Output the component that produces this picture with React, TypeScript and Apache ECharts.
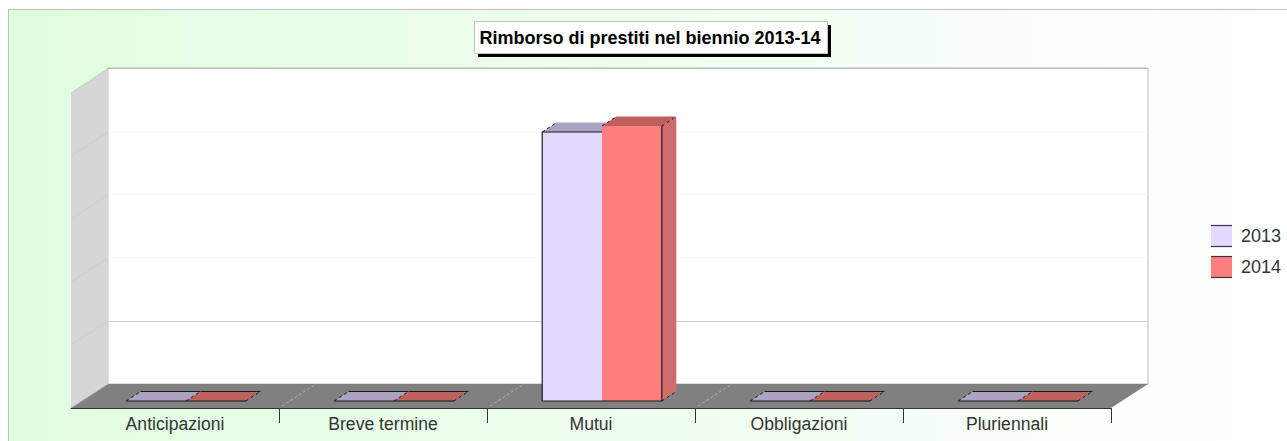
import React, { useEffect, useRef } from "react";
import * as echarts from "echarts";

const TITLE = "Rimborso di prestiti nel biennio 2013-14";
const categories = ["Anticipazioni", "Breve termine", "Mutui", "Obbligazioni", "Pluriennali"];
const seriesNames = ["2013", "2014"];
const values2013 = [0, 0, 427, 0, 0];
const values2014 = [0, 0, 436.5, 0, 0];
const wallTicks = [100, 200, 300, 400, 500];
const boundaries = [1, 2, 3, 4];

const FACE = ["#e3d8ff", "#ff7f7f"];
const TOP = ["#aba2c2", "#bf6060"];
const SIDE = ["#aba2c2", "#cf6c6c"];
const DARK = "#1a1a1a";
const DX = 14.5;
const DY = 9.5;
const WALL_DX = 37;
const WALL_DY = 24;

function box(seriesIdx: number) {
  return (_params: any, api: any) => {
    const i = api.value(0);
    const v = api.value(1);
    const p = api.coord([i, v]);
    const band = api.size([1, 0])[0];
    const w = band * 0.2875;
    const x0 = p[0] + 11 + (seriesIdx - 1) * w;
    const x1 = x0 + w;
    const base = api.coord([i, 0])[1] - 7;
    const y = p[1] - 7;
    const tall = v > 0;
    const fill = (points: number[][], color: string) => ({
      type: "polygon",
      shape: { points },
      style: { fill: color, stroke: null },
    });
    const line = (a: number[], b: number[], dashed = false) => ({
      type: "line",
      shape: { x1: a[0], y1: a[1], x2: b[0], y2: b[1] },
      style: { stroke: DARK, lineWidth: dashed ? 1 : 1.2, lineDash: dashed ? [3, 3] : null },
    });
    const children: any[] = [
      fill([[x0, y], [x1, y], [x1 + DX, y - DY], [x0 + DX, y - DY]], TOP[seriesIdx]),
    ];
    if (tall) {
      if (seriesIdx === 1) {
        children.push(fill([[x1, y], [x1 + DX, y - DY], [x1 + DX, base - DY], [x1, base]], SIDE[seriesIdx]));
      }
      children.push(fill([[x0, y], [x1, y], [x1, base], [x0, base]], FACE[seriesIdx]));
    }
    children.push(line([x0, base], [x1, base]));
    if (!tall) children.push(line([x0 + DX, y - DY], [x1 + DX, y - DY]));
    if (tall && seriesIdx === 0) {
      children.push(line([x0, y], [x1, y]));
      children.push(line([x0, y], [x0, base]));
    }
    if (tall && seriesIdx === 1) {
      children.push(line([x1, y], [x1, base]));
      children.push(line([x1, base], [x1 + DX, base - DY], true));
    }
    children.push(line([x0, y], [x0 + DX, y - DY], true));
    if (seriesIdx === 1) children.push(line([x1, y], [x1 + DX, y - DY], true));
    return { type: "group", children };
  };
}

function renderWall(params: any, api: any) {
  const c = params.coordSys;
  const floorY = c.y + c.height;
  const poly = (points: number[][], color: string) => ({
    type: "polygon",
    shape: { points },
    style: { fill: color, stroke: null },
  });
  const children: any[] = [];
  if (params.dataIndex === 0) {
    children.push(
      poly([[c.x, c.y], [c.x + WALL_DX, c.y - WALL_DY - 1], [c.x + WALL_DX, floorY - WALL_DY], [c.x, floorY]], "#d6d6d6"),
      poly([[c.x + WALL_DX, floorY - WALL_DY], [c.x + c.width + WALL_DX, floorY - WALL_DY], [c.x + c.width, floorY], [c.x, floorY]], "#808080"),
    );
  }
  const y = api.coord([0, api.value(0)])[1];
  children.push({
    type: "line",
    shape: { x1: c.x, y1: y, x2: c.x + WALL_DX, y2: y - WALL_DY },
    style: { stroke: "#cdcdcd", lineWidth: 1 },
  });
  return { type: "group", children };
}

function renderSeparator(params: any, api: any) {
  const c = params.coordSys;
  const floorY = c.y + c.height;
  const x = api.coord([api.value(0), 0])[0] - api.size([1, 0])[0] / 2;
  return {
    type: "line",
    shape: { x1: x + 3, y1: floorY - 2, x2: x + WALL_DX, y2: floorY - WALL_DY },
    style: { stroke: "#b4b4b4", lineWidth: 1, lineDash: [3, 2] },
  };
}

export default function App() {
  const ref = useRef<HTMLDivElement>(null);
  useEffect(() => {
    document.body.style.margin = "0";
    const chart = echarts.init(ref.current!, null, { renderer: "svg" });
    const legendLine = (x: number, y: number) => ({
      type: "line",
      z: 20,
      shape: { x1: x, y1: y, x2: x + 21, y2: y },
      style: { stroke: "#3a3048", lineWidth: 1.2 },
    });
    chart.setOption({
      animation: false,
      backgroundColor: "#ffffff",
      textStyle: { fontFamily: "Liberation Sans" },
      grid: [
        { left: 71, top: 93, width: 1040, height: 315, show: false },
        {
          left: 108,
          top: 68,
          width: 1040,
          height: 316,
          show: true,
          backgroundColor: "#ffffff",
          borderColor: "#bdbdbd",
          borderWidth: 1,
        },
      ],
      xAxis: [
        {
          type: "category",
          gridIndex: 0,
          data: categories,
          axisLine: { show: true, lineStyle: { color: "#333", width: 1 } },
          axisTick: {
            show: true,
            length: 15,
            alignWithLabel: false,
            interval: (i: number) => i > 0,
            lineStyle: { color: "#333", width: 1 },
          },
          axisLabel: { color: "#333", fontSize: 17.6, fontFamily: "Liberation Sans", margin: 7 },
        },
        { type: "category", gridIndex: 1, data: categories, show: false },
      ],
      yAxis: [
        { type: "value", gridIndex: 0, min: 0, max: 500, interval: 100, show: false, splitLine: { show: false } },
        {
          type: "value",
          gridIndex: 1,
          min: 0,
          max: 500,
          interval: 100,
          axisLine: { show: false },
          axisTick: { show: false },
          axisLabel: { show: false },
          splitLine: {
            show: true,
            lineStyle: { color: ["#cfcfcf", "#cfcfcf", "#fafafa", "#fafafa", "#fafafa", "#bdbdbd"], width: 1 },
          },
        },
      ],
      legend: {
        data: seriesNames,
        orient: "vertical",
        left: 1211,
        top: 225,
        padding: 0,
        itemWidth: 21,
        itemHeight: 21,
        itemGap: 10,
        icon: "rect",
        textStyle: { color: "#333", fontSize: 18, fontFamily: "Liberation Sans", padding: [0, 0, 0, 4] },
        selectedMode: false,
      },
      graphic: [
        {
          type: "rect",
          z: -10,
          silent: true,
          shape: { x: 8.5, y: 9.5, width: 1300, height: 460 },
          style: {
            fill: new echarts.graphic.LinearGradient(0, 0, 1, 0, [
              { offset: 0, color: "#e0fde0" },
              { offset: 1, color: "#ffffff" },
            ]),
            stroke: "#b9c2b9",
            lineWidth: 1,
          },
        },
        {
          type: "rect",
          z: 20,
          shape: { x: 478, y: 25, width: 353, height: 32 },
          style: { fill: "#000000" },
        },
        {
          type: "rect",
          z: 21,
          shape: { x: 474.5, y: 21.5, width: 353, height: 32 },
          style: { fill: "#ffffff", stroke: "#c4c4c4", lineWidth: 1 },
        },
        {
          type: "text",
          z: 22,
          x: 650,
          y: 37.5,
          style: {
            text: TITLE,
            fill: "#000",
            font: "bold 18px 'Liberation Sans'",
            align: "center",
            verticalAlign: "middle",
          },
        },
        legendLine(1211, 225.5),
        legendLine(1211, 246.5),
        legendLine(1211, 256.5),
        legendLine(1211, 277.5),
      ],
      series: [
        {
          type: "custom",
          name: "wall",
          xAxisIndex: 0,
          yAxisIndex: 0,
          z: 1,
          silent: true,
          clip: false,
          data: wallTicks,
          encode: { y: 0 },
          renderItem: renderWall,
        },
        {
          type: "custom",
          name: "separators",
          xAxisIndex: 0,
          yAxisIndex: 0,
          z: 1.5,
          silent: true,
          clip: false,
          data: boundaries,
          encode: { x: 0 },
          renderItem: renderSeparator,
        },
        {
          type: "custom",
          name: seriesNames[0],
          xAxisIndex: 0,
          yAxisIndex: 0,
          z: 3,
          clip: false,
          itemStyle: { color: FACE[0] },
          data: values2013.map((v, i) => [i, v]),
          encode: { x: 0, y: 1 },
          renderItem: box(0),
        },
        {
          type: "custom",
          name: seriesNames[1],
          xAxisIndex: 0,
          yAxisIndex: 0,
          z: 4,
          clip: false,
          itemStyle: { color: FACE[1] },
          data: values2014.map((v, i) => [i, v]),
          encode: { x: 0, y: 1 },
          renderItem: box(1),
        },
      ],
    });
    return () => chart.dispose();
  }, []);
  return <div ref={ref} style={{ width: 1287, height: 441 }} />;
}
